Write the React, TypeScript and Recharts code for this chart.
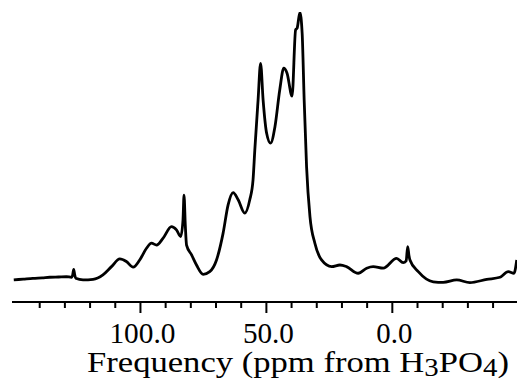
import React from "react";
import { LineChart, Line, XAxis, YAxis } from "recharts";

// Chemical shift (ppm) and intensity (arbitrary units)
const ppm = [
  150.3, 146.5, 142.7, 139.0, 136.0, 132.5, 129.4, 127.4, 126.9, 126.5, 126.1, 125.7,
  122.8, 118.8, 114.9, 111.5, 108.2, 105.6, 102.9, 100.3, 97.6, 95.6, 93.6, 91.0,
  87.7, 85.7, 84.0, 83.1, 82.7, 82.2, 81.7, 79.7, 77.75, 75.1, 72.5, 69.8,
  67.2, 65.2, 63.2, 61.2, 58.6, 56.6, 55.3, 54.6, 53.3, 52.3, 51.3, 49.9,
  48.35, 46.6, 44.7, 43.1, 41.8, 39.8, 38.4, 37.8, 36.7, 35.8, 35.0, 34.05,
  32.7, 30.75, 28.1, 24.1, 20.8, 18.2, 13.55, 10.2, 7.6, 3.6, -1.7, -4.3,
  -5.5, -6.1, -6.6, -7.0, -10.3, -16.25, -20.2, -25.55, -30.8, -37.5, -42.75, -46.05,
  -48.3, -49.4,
];

const intensity = [
  -0.7, -0.4, -0.1, 0.1, 0.3, 0.4, 0.5, 0.3, 1.2, 3.3, 1.2, -0.1,
  -0.7, -0.5, 1.2, 4.3, 7.2, 6.2, 4.1, 6.8, 11.2, 13.1, 12.4, 15.0,
  19.3, 18.1, 15.6, 22.0, 31.2, 20.0, 12.4, 8.7, 4.9, 1.4, 2.4, 6.8,
  16.8, 27.5, 32.1, 29.4, 24.4, 29.4, 36.9, 48.1, 66.9, 80.7, 66.9, 54.4,
  50.7, 56.9, 70.7, 78.9, 77.0, 68.4, 93.3, 93.9, 99.8, 92.0, 66.9, 41.9,
  23.1, 13.1, 6.8, 4.3, 4.9, 4.3, 1.8, 3.7, 4.3, 3.7, 7.4, 5.8,
  6.5, 11.8, 8.5, 6.8, 2.4, -1.4, -1.6, -0.7, -1.7, -0.5, 0.3, 2.4,
  1.8, 6.8,
];

const tickValues = [140, 130, 120, 110, 100, 90, 80, 70, 60, 50, 40, 30, 20, 10, 0, -10, -20, -30, -40];
const majorTicks = [100, 50, 0];

const data = ppm.map((p, i) => ({ ppm: p, intensity: intensity[i] }));

const FONT = "Liberation Serif, Times New Roman, serif";

function AxisTick(props: any) {
  const { x, y, payload } = props;
  const v = payload.value as number;
  const major = majorTicks.includes(v);
  return (
    <g>
      <line x1={x} x2={x} y1={y} y2={y + (major ? 11 : 6)} stroke="#000" strokeWidth={2} />
      {major && (
        <text
          x={x + 2}
          y={y + 41}
          textAnchor="middle"
          fontFamily={FONT}
          fontSize={30}
          fill="#000"
          textLength={v === 100 ? 66 : v === 50 ? 51 : 36}
          lengthAdjust="spacingAndGlyphs"
        >
          {v.toFixed(1)}
        </text>
      )}
    </g>
  );
}

function AxisTitle() {
  return (
    <text
      x={87}
      y={372}
      textAnchor="start"
      fontFamily={FONT}
      fontSize={30}
      fill="#000"
      textLength={422}
      lengthAdjust="spacingAndGlyphs"
    >
      Frequency (ppm from H
      <tspan dy={4} fontSize={25}>3</tspan>
      <tspan dy={-4}>PO</tspan>
      <tspan dy={4} fontSize={25}>4</tspan>
      <tspan dy={-4}>)</tspan>
    </text>
  );
}

export default function App() {
  return (
    <div style={{ position: "absolute", left: 0, top: 0, background: "#fff" }}>
      <LineChart
        width={517}
        height={383}
        data={data}
        margin={{ top: 12, right: 0, left: 12, bottom: 0 }}
      >
        <XAxis
          dataKey="ppm"
          type="number"
          domain={[-49.5, 151]}
          reversed
          allowDataOverflow
          ticks={tickValues}
          interval={0}
          height={81}
          tickSize={0}
          tickMargin={0}
          tickLine={false}
          axisLine={{ stroke: "#000", strokeWidth: 2 }}
          tick={<AxisTick />}
          label={{ content: () => <AxisTitle /> }}
        />
        <YAxis hide domain={[-9, 100]} allowDataOverflow type="number" />
        <Line
          type="monotone"
          dataKey="intensity"
          stroke="#000"
          strokeWidth={2.8}
          dot={false}
          isAnimationActive={false}
        />
      </LineChart>
    </div>
  );
}
